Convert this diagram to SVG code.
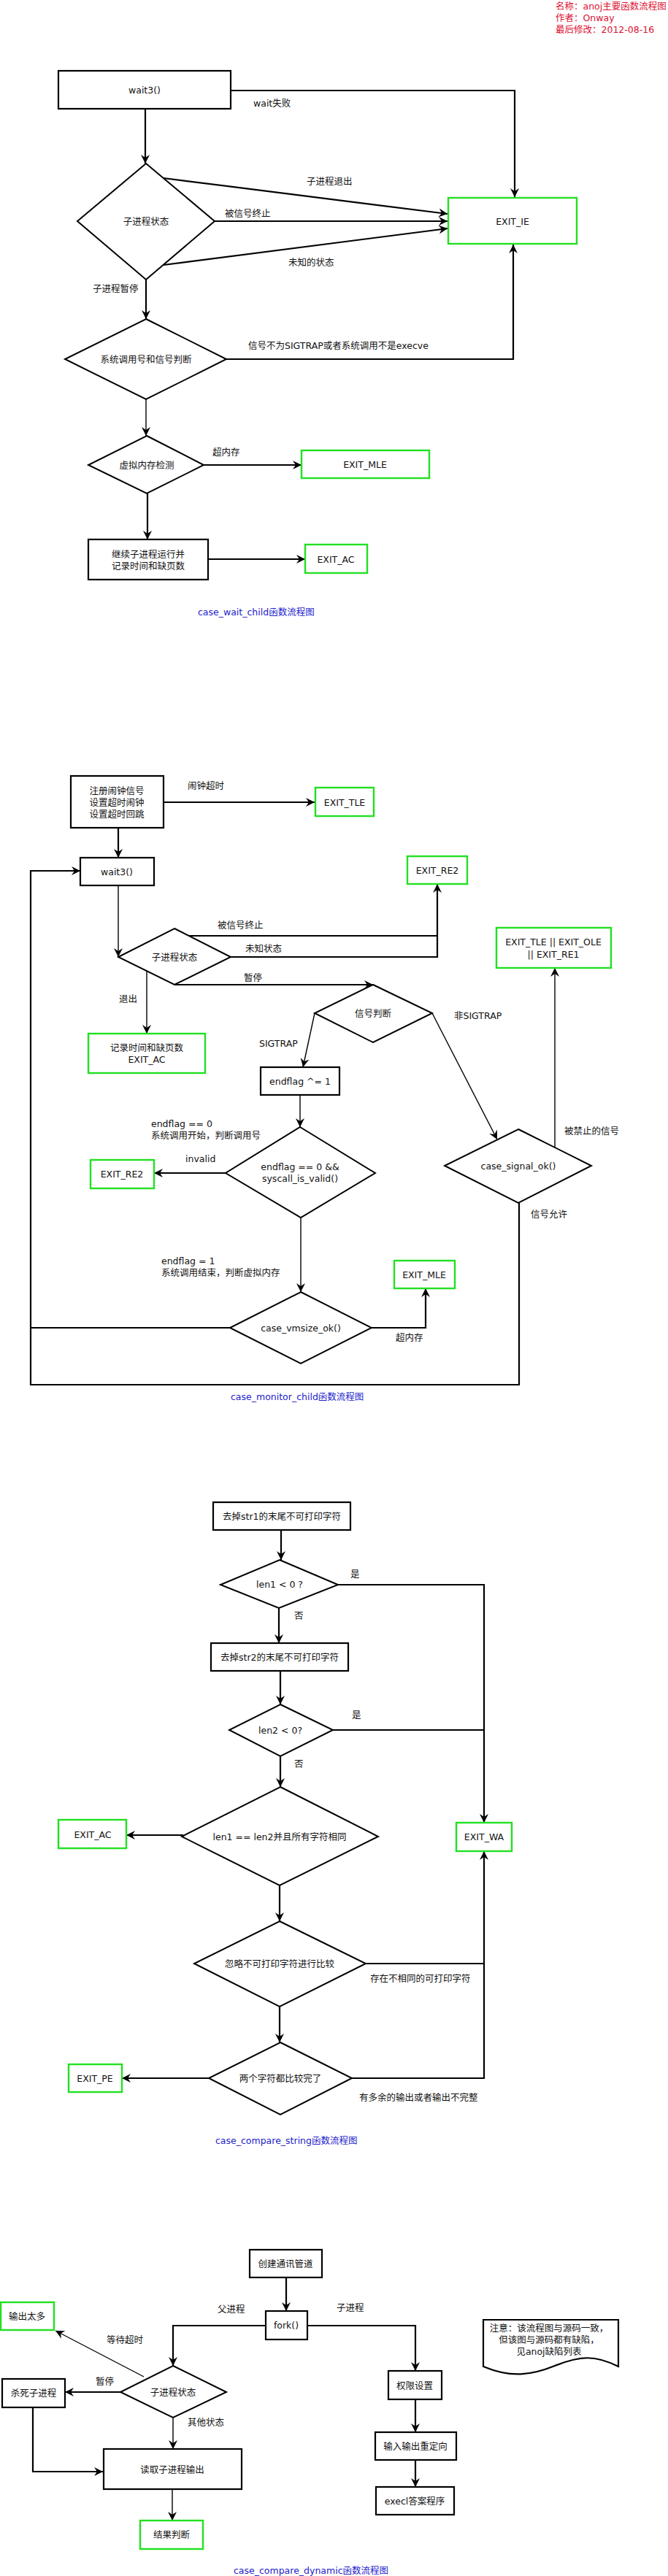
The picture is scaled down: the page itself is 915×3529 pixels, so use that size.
<svg xmlns="http://www.w3.org/2000/svg" width="915" height="3529" viewBox="0 0 915 3529">
<defs>
<marker id="arr" markerUnits="userSpaceOnUse" markerWidth="14" markerHeight="14" viewBox="0 0 14 14" refX="13" refY="7" orient="auto">
<path d="M1,1 L13,7 L1,13 L5,7 z" fill="#000"/>
</marker>
</defs>
<style>
text{font-family:"DejaVu Sans","Noto Sans CJK SC",sans-serif;font-size:12.5px;fill:#111}
.c{text-anchor:middle;dominant-baseline:central}
.l{dominant-baseline:central}
.box{fill:#fff;stroke:#000;stroke-width:2.2}
.ex{fill:#fff;stroke:#22e022;stroke-width:2.4}
.dm{fill:#fff;stroke:#000;stroke-width:2}
.k{fill:none;stroke:#000;stroke-width:2.2}
.n{fill:none;stroke:#000;stroke-width:1.4}
.a{marker-end:url(#arr)}
.cap{fill:#2222cc;dominant-baseline:central}
.hdr{fill:#dd1133}
</style>
<rect width="915" height="3529" fill="#fff"/>

<g id="header">
<text class="hdr" x="761" y="12.5">名称：anoj主要函数流程图</text>
<text class="hdr" x="761" y="28.5">作者：Onway</text>
<text class="hdr" x="761" y="44.5">最后修改：2012-08-16</text>
</g>

<!-- ================= Chart 1 ================= -->
<g id="connectors1">
<path class="k a" d="M316,124 H705 V270"/>
<path class="k a" d="M199,149 V224"/>
<path class="k a" d="M224,244 L613,293"/>
<path class="k a" d="M294,303 L613,303"/>
<path class="k a" d="M224,363 L613,313"/>
<path class="k a" d="M200,383 V437"/>
<path class="k a" d="M310,492 H703 V335"/>
<path class="n a" d="M200,547 V597"/>
<path class="k a" d="M279,637 H413"/>
<path class="k a" d="M202,676 V739"/>
<path class="k a" d="M285,766 H418"/>
<text class="l" x="347" y="141">wait失败</text>
<text class="l" x="420" y="248">子进程退出</text>
<text class="l" x="308" y="292">被信号终止</text>
<text class="l" x="395" y="359">未知的状态</text>
<text class="l" x="127" y="395">子进程暂停</text>
<text class="l" x="340" y="473">信号不为SIGTRAP或者系统调用不是execve</text>
<text class="l" x="291" y="619">超内存</text>
</g>
<g id="c1_wait3"><rect class="box" x="80" y="97" width="236" height="52"/><text class="c" x="198" y="123">wait3()</text></g>
<g id="c1_state"><polygon class="dm" points="200,224 294,303 200,383 106,303"/><text class="c" x="200" y="303">子进程状态</text></g>
<g id="c1_exit_ie"><rect class="ex" x="614" y="271" width="176" height="63"/><text class="c" x="702" y="303">EXIT_IE</text></g>
<g id="c1_sys"><polygon class="dm" points="200,437 310,492 200,547 89,492"/><text class="c" x="200" y="492">系统调用号和信号判断</text></g>
<g id="c1_vm"><polygon class="dm" points="201,597 279,637 201,676 121,637"/><text class="c" x="201" y="637">虚拟内存检测</text></g>
<g id="c1_exit_mle"><rect class="ex" x="413" y="617" width="175" height="38"/><text class="c" x="500" y="636">EXIT_MLE</text></g>
<g id="c1_cont"><rect class="box" x="121" y="739" width="164" height="55"/><text class="c" x="203" y="759">继续子进程运行并</text><text class="c" x="203" y="775">记录时间和缺页数</text></g>
<g id="c1_exit_ac"><rect class="ex" x="418" y="746" width="85" height="39"/><text class="c" x="460" y="766">EXIT_AC</text></g>
<text class="cap" x="271" y="838">case_wait_child函数流程图</text>

<!-- ================= Chart 2 ================= -->
<g id="connectors2">
<path class="k a" d="M224,1099 H431"/>
<path class="k a" d="M162,1134 V1175"/>
<path class="k a" d="M711,1648 V1897 H42 V1193 H110"/>
<path class="k" d="M315,1819 H42"/>
<path class="n a" d="M162,1213 V1311"/>
<path class="k a" d="M257,1282 H599 V1211"/>
<path class="k" d="M316,1311 H599 V1282"/>
<path class="n a" d="M201,1330 V1416"/>
<path class="k a" d="M239,1349 H511"/>
<path class="n a" d="M431,1388 L415,1462"/>
<path class="n a" d="M411,1500 V1544"/>
<path class="k a" d="M309,1607 H211"/>
<path class="n a" d="M592,1388 L681,1561"/>
<path class="n a" d="M760,1572 V1326"/>
<path class="n a" d="M412,1668 V1770"/>
<path class="k a" d="M509,1819 H583 V1765"/>
<text class="l" x="257" y="1076">闹钟超时</text>
<text class="l" x="298" y="1267">被信号终止</text>
<text class="l" x="336" y="1299">未知状态</text>
<text class="l" x="334" y="1339">暂停</text>
<text class="l" x="163" y="1368">退出</text>
<text class="l" x="355" y="1429">SIGTRAP</text>
<text class="l" x="622" y="1391">非SIGTRAP</text>
<text class="l" x="207" y="1539">endflag == 0</text>
<text class="l" x="207" y="1555">系统调用开始，判断调用号</text>
<text class="l" x="254" y="1587">invalid</text>
<text class="l" x="773" y="1549">被禁止的信号</text>
<text class="l" x="727" y="1663">信号允许</text>
<text class="l" x="221" y="1727">endflag = 1</text>
<text class="l" x="221" y="1743">系统调用结束，判断虚拟内存</text>
<text class="l" x="542" y="1832">超内存</text>
</g>
<g id="c2_alarm"><rect class="box" x="97" y="1063" width="127" height="71"/><text class="c" x="160" y="1083">注册闹钟信号</text><text class="c" x="160" y="1099">设置超时闹钟</text><text class="c" x="160" y="1115">设置超时回跳</text></g>
<g id="c2_exit_tle"><rect class="ex" x="432" y="1079" width="80" height="39"/><text class="c" x="472" y="1099">EXIT_TLE</text></g>
<g id="c2_wait3"><rect class="box" x="110" y="1175" width="101" height="38"/><text class="c" x="160" y="1194">wait3()</text></g>
<g id="c2_state"><polygon class="dm" points="239,1272 316,1311 239,1349 162,1311"/><text class="c" x="239" y="1311">子进程状态</text></g>
<g id="c2_exit_re2a"><rect class="ex" x="558" y="1173" width="82" height="38"/><text class="c" x="599" y="1192">EXIT_RE2</text></g>
<g id="c2_exit_multi"><rect class="ex" x="680" y="1271" width="157" height="55"/><text class="c" x="758" y="1290">EXIT_TLE || EXIT_OLE</text><text class="c" x="758" y="1307">|| EXIT_RE1</text></g>
<g id="c2_exit_ac"><rect class="ex" x="121" y="1416" width="160" height="54"/><text class="c" x="201" y="1435">记录时间和缺页数</text><text class="c" x="201" y="1451">EXIT_AC</text></g>
<g id="c2_sig"><polygon class="dm" points="511,1349 592,1388 511,1428 431,1388"/><text class="c" x="511" y="1388">信号判断</text></g>
<g id="c2_endflag"><rect class="box" x="357" y="1462" width="108" height="38"/><text class="c" x="411" y="1481">endflag ^= 1</text></g>
<g id="c2_valid"><polygon class="dm" points="411,1544 514,1607 412,1668 309,1607"/><text class="c" x="411" y="1598">endflag == 0 &amp;&amp;</text><text class="c" x="411" y="1614">syscall_is_valid()</text></g>
<g id="c2_exit_re2b"><rect class="ex" x="124" y="1589" width="87" height="39"/><text class="c" x="167" y="1608">EXIT_RE2</text></g>
<g id="c2_sigok"><polygon class="dm" points="710,1547 810,1597 710,1648 609,1597"/><text class="c" x="710" y="1597">case_signal_ok()</text></g>
<g id="c2_vmsize"><polygon class="dm" points="412,1770 509,1819 412,1868 315,1819"/><text class="c" x="412" y="1819">case_vmsize_ok()</text></g>
<g id="c2_exit_mle"><rect class="ex" x="540" y="1727" width="83" height="38"/><text class="c" x="581" y="1746">EXIT_MLE</text></g>
<text class="cap" x="316" y="1913">case_monitor_child函数流程图</text>

<!-- ================= Chart 3 ================= -->
<g id="connectors3">
<path class="k a" d="M385,2096 V2137"/>
<path class="k a" d="M463,2171 H663 V2497"/>
<path class="k a" d="M382,2203 V2251"/>
<path class="k a" d="M384,2289 V2335"/>
<path class="k" d="M456,2370 H663"/>
<path class="k a" d="M384,2406 V2448"/>
<path class="k a" d="M251,2514 H173"/>
<path class="k a" d="M383,2583 V2632"/>
<path class="k" d="M501,2690 H663"/>
<path class="k a" d="M482,2847 H663 V2536"/>
<path class="k a" d="M383,2749 V2798"/>
<path class="k a" d="M286,2847 H167"/>
<text class="l" x="480" y="2156">是</text>
<text class="l" x="403" y="2213">否</text>
<text class="l" x="482" y="2349">是</text>
<text class="l" x="403" y="2416">否</text>
<text class="l" x="507" y="2710">存在不相同的可打印字符</text>
<text class="l" x="492" y="2873">有多余的输出或者输出不完整</text>
</g>
<g id="c3_trim1"><rect class="box" x="292" y="2058" width="188" height="38"/><text class="c" x="386" y="2077">去掉str1的末尾不可打印字符</text></g>
<g id="c3_len1"><polygon class="dm" points="383,2137 463,2171 382,2203 302,2171"/><text class="c" x="383" y="2170">len1 &lt; 0 ?</text></g>
<g id="c3_trim2"><rect class="box" x="289" y="2251" width="188" height="38"/><text class="c" x="383" y="2270">去掉str2的末尾不可打印字符</text></g>
<g id="c3_len2"><polygon class="dm" points="384,2335 456,2370 384,2406 314,2370"/><text class="c" x="384" y="2370">len2 &lt; 0?</text></g>
<g id="c3_eq"><polygon class="dm" points="384,2448 518,2516 383,2583 249,2516"/><text class="c" x="383" y="2516">len1 == len2并且所有字符相同</text></g>
<g id="c3_exit_ac"><rect class="ex" x="80" y="2493" width="93" height="39"/><text class="c" x="127" y="2513">EXIT_AC</text></g>
<g id="c3_exit_wa"><rect class="ex" x="625" y="2497" width="76" height="39"/><text class="c" x="663" y="2516">EXIT_WA</text></g>
<g id="c3_cmp"><polygon class="dm" points="383,2632 501,2690 383,2749 266,2690"/><text class="c" x="383" y="2690">忽略不可打印字符进行比较</text></g>
<g id="c3_done"><polygon class="dm" points="384,2798 482,2847 384,2897 286,2847"/><text class="c" x="384" y="2847">两个字符都比较完了</text></g>
<g id="c3_exit_pe"><rect class="ex" x="94" y="2828" width="73" height="38"/><text class="c" x="130" y="2847">EXIT_PE</text></g>
<text class="cap" x="295" y="2932">case_compare_string函数流程图</text>

<!-- ================= Chart 4 ================= -->
<g id="connectors4">
<path class="k a" d="M392,3120 V3166"/>
<path class="k a" d="M364,3186 H237 V3241"/>
<path class="k a" d="M421,3186 H569 V3248"/>
<path class="n a" d="M197,3256 L76,3193"/>
<path class="k a" d="M165,3277 H89"/>
<path class="k a" d="M45,3298 V3386 H141"/>
<path class="n a" d="M237,3312 V3355"/>
<path class="n a" d="M236,3410 V3453"/>
<path class="k a" d="M569,3287 V3332"/>
<path class="k a" d="M569,3370 V3407"/>
<text class="l" x="298" y="3163">父进程</text>
<text class="l" x="461" y="3161">子进程</text>
<text class="l" x="146" y="3205">等待超时</text>
<text class="l" x="131" y="3262">暂停</text>
<text class="l" x="257" y="3318">其他状态</text>
</g>
<g id="c4_pipe"><rect class="box" x="342" y="3082" width="99" height="38"/><text class="c" x="391" y="3101">创建通讯管道</text></g>
<g id="c4_fork"><rect class="box" x="364" y="3166" width="57" height="39"/><text class="c" x="392" y="3185">fork()</text></g>
<g id="c4_much"><rect class="ex" x="1" y="3154" width="73" height="38"/><text class="c" x="37" y="3173">输出太多</text></g>
<g id="c4_state"><polygon class="dm" points="237,3241 310,3277 237,3312 165,3277"/><text class="c" x="237" y="3277">子进程状态</text></g>
<g id="c4_kill"><rect class="box" x="3" y="3259" width="86" height="39"/><text class="c" x="46" y="3278">杀死子进程</text></g>
<g id="c4_read"><rect class="box" x="142" y="3355" width="189" height="55"/><text class="c" x="236" y="3383">读取子进程输出</text></g>
<g id="c4_result"><rect class="ex" x="192" y="3453" width="86" height="39"/><text class="c" x="235" y="3472">结果判断</text></g>
<g id="c4_perm"><rect class="box" x="532" y="3248" width="73" height="39"/><text class="c" x="568" y="3268">权限设置</text></g>
<g id="c4_redir"><rect class="box" x="514" y="3332" width="111" height="38"/><text class="c" x="569" y="3351">输入输出重定向</text></g>
<g id="c4_execl"><rect class="box" x="515" y="3407" width="107" height="38"/><text class="c" x="568" y="3426">execl答案程序</text></g>
<g id="c4_note"><path class="box" d="M662,3178 H847 V3242 C815,3226 795,3227 760,3241 C728,3254 700,3258 662,3242 Z"/><text class="c" x="752" y="3189">注意：该流程图与源码一致，</text><text class="c" x="752" y="3205">但该图与源码都有缺陷，</text><text class="c" x="752" y="3221">见anoj缺陷列表</text></g>
<text class="cap" x="320" y="3521">case_compare_dynamic函数流程图</text>
</svg>
